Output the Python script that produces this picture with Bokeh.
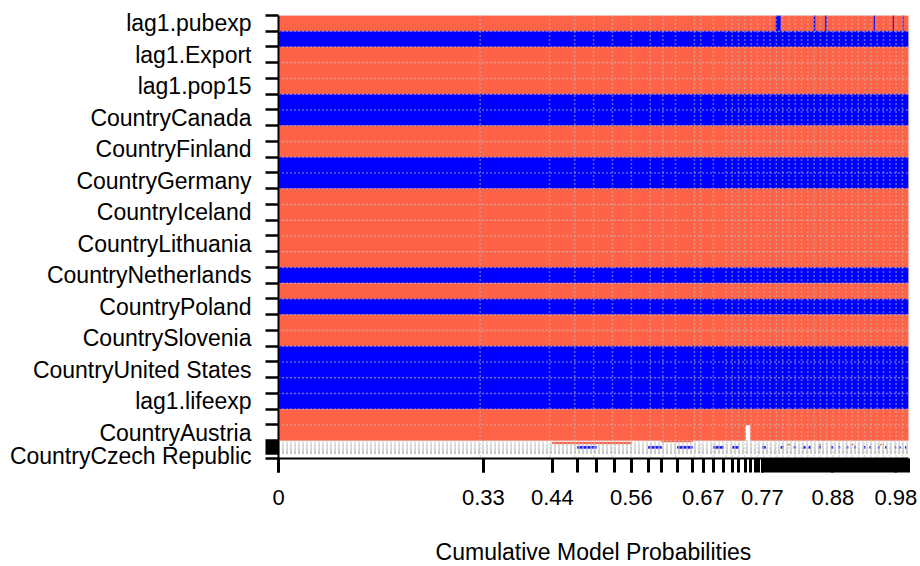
import numpy as np
from bokeh.plotting import figure
from bokeh.models import Range1d, FixedTicker, CustomJSTickFormatter
from bokeh.embed import file_html
from bokeh.resources import INLINE

# ---------------- data ----------------
# posterior model probabilities of the best models (left to right)
model_pmp = [0.325, 0.1095, 0.0397, 0.0302, 0.0286, 0.0270, 0.0270, 0.0206, 0.0254, 0.0238,
             0.0175, 0.0159, 0.0159, 0.0143, 0.0095, 0.0111, 0.0079, 0.0079, 0.0048, 0.0063,
             0.0048, 0.0032, 0.0048,
             0.0045, 0.0042, 0.0040, 0.0038, 0.0037, 0.0036, 0.0035, 0.0034, 0.0033, 0.0032,
             0.0031, 0.0031, 0.0030, 0.0030, 0.0029, 0.0029, 0.0028, 0.0028, 0.0028, 0.0027,
             0.0027, 0.0027, 0.0026, 0.0026, 0.0026, 0.0025, 0.0025, 0.0025, 0.0025, 0.0024,
             0.0024, 0.0024, 0.0023, 0.0023, 0.0023, 0.0023, 0.0022, 0.0022, 0.0022, 0.0022,
             0.0021, 0.0021, 0.0021, 0.0021, 0.0021, 0.0020, 0.0020, 0.0020, 0.0020, 0.0020,
             0.0020, 0.0019, 0.0019, 0.0019, 0.0019,
             0.0018, 0.0018, 0.0018, 0.0018, 0.0018, 0.0018, 0.0018, 0.0018,
             0.0017, 0.0017, 0.0017, 0.0017, 0.0017, 0.0017, 0.0017, 0.0017,
             0.0016, 0.0016, 0.0016, 0.0016, 0.0016, 0.0016, 0.0016, 0.0016,
             0.0015, 0.0015, 0.0015, 0.0015, 0.0015, 0.0015, 0.0015, 0.0015,
             0.0014, 0.0014, 0.0014, 0.0014, 0.0014, 0.0014, 0.0014, 0.0014,
             0.0013, 0.0013, 0.0013, 0.0013, 0.0013, 0.0013, 0.0013, 0.0011]

# variables, top to bottom (None = label not printed in the original)
row_names = ["lag1.pubexp", None, "lag1.Export", None, "lag1.pop15", None,
             "CountryCanada", None, "CountryFinland", None, "CountryGermany", None,
             "CountryIceland", None, "CountryLithuania", None, "CountryNetherlands", None,
             "CountryPoland", None, "CountrySlovenia", None, "CountryUnited States", None,
             "lag1.lifeexp", None, "CountryAustria",
             None, None, None, None, None, None, None, None, None, None, None, None, None, None,
             "CountryCzech Republic"]

# posterior inclusion probabilities (row heights)
row_pip = [1.0, 1.0, 1.0, 1.0, 1.0, 1.0, 1.0, 1.0, 1.0, 1.0, 1.0, 1.0, 1.0, 1.0,
           1.0, 1.0, 1.0, 1.0, 1.0, 1.0, 1.0, 1.0, 1.0, 1.0, 1.0, 1.0, 0.99,
           0.10, 0.12, 0.08, 0.07, 0.07, 0.06, 0.06, 0.05, 0.05, 0.04, 0.04, 0.03,
           0.03, 0.03, 0.31]

# default coefficient sign per variable ("R" tomato, "B" blue, None = not included)
row_sign = ["R", "B", "R", "R", "R", "B", "B", "R", "R", "B", "B", "R", "R", "R",
            "R", "R", "B", "R", "B", "R", "R", "B", "B", "B", "B", "R", "R",
            None, None, None, None, None, None, None, None, None, None, None, None,
            None, None, None]

# exceptions: variable row -> models where it differs
blue_in_models = {0: [25, 26, 44, 51, 89, 108, 119],
                  31: [3, 7, 9, 12, 14, 20, 27, 33, 38, 41, 47, 55, 60, 66, 72, 80, 85, 93, 100, 110, 115, 122],
                  32: [3, 7, 9, 12, 14, 20, 27, 33, 38, 41, 47, 55, 60, 66, 72, 80, 85, 93, 100, 110, 115, 122]}
red_in_models = {27: [8, 9], 28: [2, 3, 4, 5], 29: [30, 47, 70, 95]}
excluded_in_models = {26: [16]}

x_tick_labels = ["0", "0.33", "0.44", "0.56", "0.67", "0.77", "0.88", "0.98"]

# ---------------- build ----------------
cum = np.concatenate([[0.0], np.cumsum(model_pmp)])
total_x = float(cum[-1])
ybound = np.concatenate([[0.0], np.cumsum(row_pip)])
total_y = float(ybound[-1])
n_rows, n_models = len(row_pip), len(model_pmp)

state = [[row_sign[r]] * n_models for r in range(n_rows)]
for r, ms in blue_in_models.items():
    for m in ms:
        state[r][m] = "B"
for r, ms in red_in_models.items():
    for m in ms:
        state[r][m] = "R"
for r, ms in excluded_in_models.items():
    for m in ms:
        state[r][m] = None

colors = {"R": "#FF6347", "B": "#0000FF"}
L, Rr, T, Bt, C = [], [], [], [], []
for r in range(n_rows):
    m = 0
    while m < n_models:
        s = state[r][m]
        m2 = m
        while m2 + 1 < n_models and state[r][m2 + 1] == s:
            m2 += 1
        if s is not None:
            L.append(float(cum[m])); Rr.append(float(cum[m2 + 1]))
            T.append(float(ybound[r])); Bt.append(float(ybound[r + 1]))
            C.append(colors[s])
        m = m2 + 1

p = figure(frame_width=630, frame_height=443, output_backend="svg", toolbar_location=None,
           x_range=Range1d(0, total_x), y_range=Range1d(total_y, 0),
           min_border_left=278, min_border_right=12, min_border_top=15, min_border_bottom=108)
p.outline_line_color = None
p.grid.grid_line_color = None
p.background_fill_color = "white"

p.quad(left=L, right=Rr, top=T, bottom=Bt, fill_color=C, line_color=C, line_width=0.4)

# dotted grey grid (at rounded bounds, drawn on top)
vgrid = sorted(set(np.round(cum, 2).tolist()))
vgrid = [v for v in vgrid if v <= total_x]
p.segment(x0=vgrid, y0=[0] * len(vgrid), x1=vgrid, y1=[total_y] * len(vgrid),
          line_color="#BEBEBE", line_width=1.5, line_dash="1 3")
hb = sorted(set(np.round(total_y - ybound, 2).tolist()))
hgrid = [total_y - v for v in hb]
p.segment(x0=[0] * len(hgrid), y0=hgrid, x1=[total_x] * len(hgrid), y1=hgrid,
          line_color="#BEBEBE", line_width=1.5, line_dash="1 3")

# x axis
xpos = []
for lab in x_tick_labels:
    v = float(lab)
    xpos.append(float(cum[int(np.argmin(np.abs(cum - v)))]))
fmt_code = """
let b = 0, d = Infinity;
for (let i = 0; i < pos.length; i++) { const e = Math.abs(pos[i] - tick); if (e < d) { d = e; b = i; } }
return lab[b];
"""
xa = p.xaxis[0]
xa.ticker = FixedTicker(ticks=xpos, minor_ticks=[float(c) for c in cum])
xa.formatter = CustomJSTickFormatter(args=dict(pos=xpos, lab=x_tick_labels), code=fmt_code)
xa.major_tick_out = 14; xa.major_tick_in = 0
xa.minor_tick_out = 14; xa.minor_tick_in = 0
xa.major_tick_line_width = 3; xa.minor_tick_line_width = 3
xa.axis_line_width = 2
xa.major_label_standoff = 17
xa.major_label_text_font = "Liberation Sans"
xa.major_label_text_font_size = "22px"
xa.major_label_text_color = "black"
xa.axis_label = "Cumulative Model Probabilities"
xa.axis_label_text_font = "Liberation Sans"
xa.axis_label_text_font_size = "23px"
xa.axis_label_text_font_style = "normal"
xa.axis_label_text_color = "black"
xa.axis_label_standoff = 31

# y axis
lab_idx = [i for i, n in enumerate(row_names) if n]
ycent = [float((ybound[i] + ybound[i + 1]) / 2) for i in lab_idx]
ynames = [row_names[i] for i in lab_idx]
ya = p.yaxis[0]
ya.ticker = FixedTicker(ticks=ycent, minor_ticks=[float(b) for b in ybound])
ya.formatter = CustomJSTickFormatter(args=dict(pos=ycent, lab=ynames), code=fmt_code)
ya.major_tick_out = 0; ya.major_tick_in = 0
ya.major_tick_line_color = None
ya.minor_tick_out = 13; ya.minor_tick_in = 0
ya.minor_tick_line_width = 2.5
ya.axis_line_width = 2
ya.major_label_standoff = 14
ya.major_label_text_font = "Liberation Sans"
ya.major_label_text_font_size = "23px"
ya.major_label_text_color = "black"

open("out.html", "w").write(file_html(p, INLINE))
